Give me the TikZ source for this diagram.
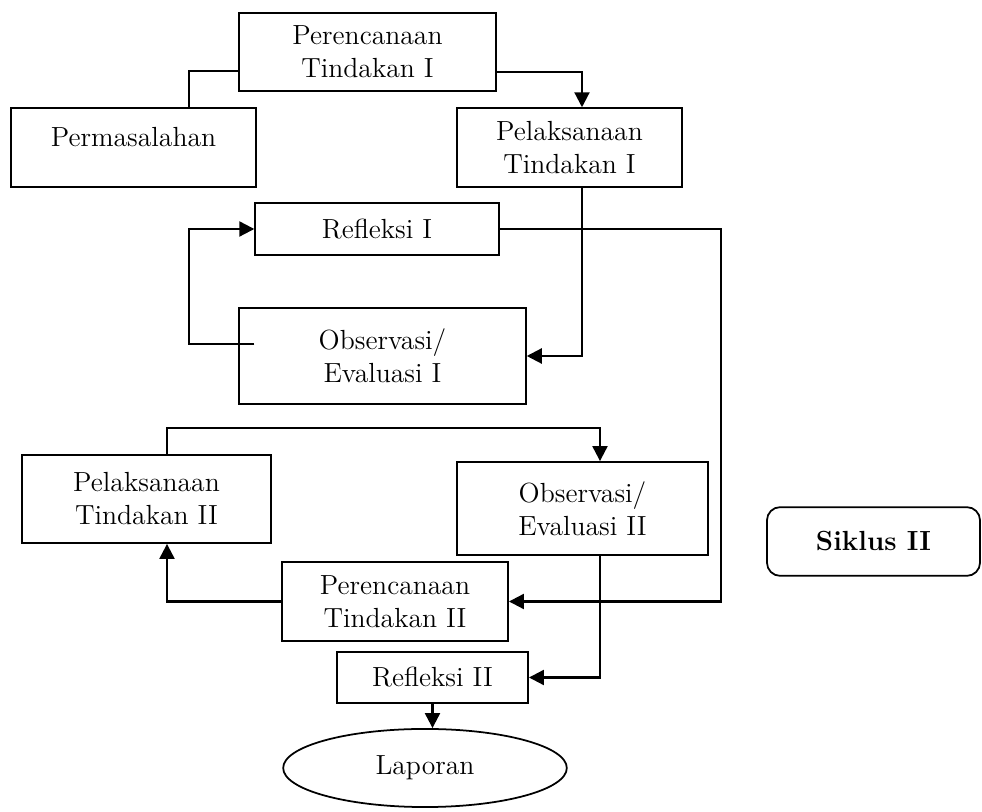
\documentclass[tikz,border=0pt]{standalone}
\usepackage{tikz}
\usetikzlibrary{arrows.meta,positioning,shapes.geometric}
\tikzset{
  box/.style={draw, line width=0.8pt, align=center, inner sep=2pt, font=\fontsize{12.6pt}{15pt}\selectfont},
  oval/.style={box, ellipse, inner sep=0pt},
  tag/.style={box, rounded corners=6pt, font=\fontsize{12.6pt}{15pt}\selectfont\bfseries},
  line/.style={line width=0.8pt},
  arrow/.style={line width=1pt, -{Triangle[length=2.4mm, width=2.4mm]}}
}

\begin{document}
\begin{tikzpicture}[x=0.016cm, y=-0.016cm]
  \useasboundingbox (0,0) rectangle (982,812);
  \node[box, minimum width=4.11cm, minimum height=1.25cm] (pt1) at (367.5,52) {Perencanaan\\Tindakan I};
  \node[box, minimum width=3.92cm, minimum height=1.26cm] (masalah) at (133.5,147.5) {Permasalahan\\[-5pt]\mbox{}};
  \node[box, minimum width=3.6cm, minimum height=1.26cm] (pl1) at (569.5,147.5) {Pelaksanaan\\Tindakan I};
  \node[box, minimum width=3.9cm, minimum height=0.83cm] (ref1) at (377,229) {Refleksi I};
  \node[box, minimum width=4.59cm, minimum height=1.54cm] (obs1) at (382.5,356) {Observasi/\\Evaluasi I};
  \node[box, minimum width=3.98cm, minimum height=1.41cm] (pl2) at (146.5,499) {Pelaksanaan\\Tindakan II};
  \node[box, minimum width=4.02cm, minimum height=1.49cm] (obs2) at (582.5,508.5) {Observasi/\\Evaluasi II};
  \node[box, minimum width=3.62cm, minimum height=1.26cm] (pt2) at (395,601.5) {Perencanaan\\Tindakan II};
  \node[box, minimum width=3.06cm, minimum height=0.82cm] (ref2) at (432.5,677.5) {Refleksi II};
  \node[oval, minimum width=4.54cm, minimum height=1.25cm] (lap) at (425,768) {Laporan};
  \node[tag, minimum width=3.41cm, minimum height=1.1cm] (siklus) at (873.5,541.5) {Siklus II};
  \coordinate (k1) at (189,71);
  \coordinate (k2) at (582,72);
  \coordinate (k3) at (189,344);
  \coordinate (k4) at (721,0);
  \coordinate (k5) at (167,428);
  \coordinate (k6) at (600,428);
  \draw[line] (k1 |- masalah.north) |- (pt1.west |- k1);
  \draw[arrow] (pt1.east |- k2) -| (k2 |- pl1.north);
  \draw[arrow] (k2 |- pl1.south) |- (obs1.east);
  \draw[arrow] (ref1.west |- k3) -- (k3) |- (ref1.west);
  \draw[arrow] (ref1.east) -| (k4 |- pt2.east) -- (pt2.east);
  \draw[arrow] (k5 |- pl2.north) |- (k6) -- (k6 |- obs2.north);
  \draw[arrow] (pt2.west) -| (k5 |- pl2.south);
  \draw[arrow] (k6 |- obs2.south) |- (ref2.east);
  \draw[arrow] (ref2.south) -- (ref2.south |- lap.north);
\end{tikzpicture}
\end{document}
